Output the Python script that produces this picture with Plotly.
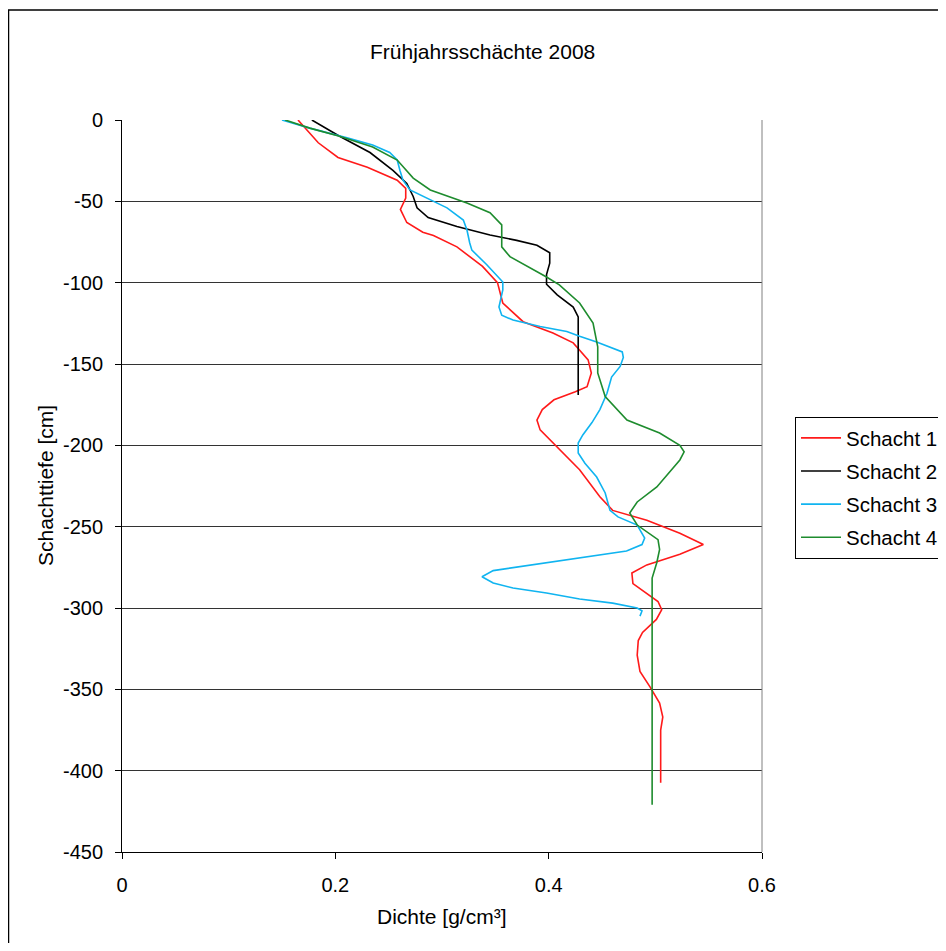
import plotly.graph_objects as go

# ---- data ----
s1_depth = [0, -14, -23, -29, -37, -42, -48, -55, -63, -69, -71, -78, -90, -100, -112.5, -124, -131, -137,
            -140, -147.5, -155.5, -164, -167, -172, -178, -184.5, -190.5, -201, -215, -231.6, -240, -246,
            -254, -261, -267, -273.5, -278.5, -285, -289, -296, -301, -307, -315, -320, -329, -339, -348.5,
            -358.5, -367, -375, -407.5]
s1_dens = [0.165, 0.184, 0.2025, 0.23, 0.258, 0.266, 0.266, 0.261, 0.267, 0.282, 0.292, 0.314, 0.338, 0.352,
           0.357, 0.376, 0.404, 0.423, 0.427, 0.437, 0.44, 0.436, 0.425, 0.405, 0.394, 0.389, 0.392, 0.408,
           0.429, 0.448, 0.46, 0.492, 0.523, 0.545, 0.523, 0.492, 0.478, 0.479, 0.488, 0.5025, 0.506, 0.501,
           0.488, 0.484, 0.483, 0.4856, 0.495, 0.504, 0.507, 0.505, 0.505]

s2_depth = [0, -10, -20, -31, -39, -47, -54, -60, -65.5, -70.7, -74, -77, -81.6, -88, -95, -101, -107.5,
            -115, -121, -169]
s2_dens = [0.178, 0.204, 0.2325, 0.254, 0.267, 0.273, 0.2766, 0.287, 0.314, 0.345, 0.37, 0.389, 0.401,
           0.401, 0.398, 0.398, 0.408, 0.423, 0.4277, 0.4277]

s3_depth = [0, -5, -11, -15.4, -20, -24.6, -31, -37, -43, -48, -54, -61.5, -67.6, -75.6, -80, -89, -99.6,
            -104.5, -115, -120, -123, -127, -130, -133, -136.5, -142.6, -146, -151.5, -158, -168, -178,
            -186, -193.6, -198.6, -204.7, -211, -219.5, -229.3, -240, -244, -249, -257, -261, -265, -268.6,
            -271.7, -277, -280.8, -284.6, -287.7, -290.8, -294.5, -297, -300, -301.8, -305]
s3_dens = [0.15, 0.176, 0.211, 0.235, 0.251, 0.258, 0.2606, 0.2634, 0.27, 0.286, 0.3047, 0.32, 0.3234,
           0.326, 0.328, 0.342, 0.357, 0.357, 0.3534, 0.356, 0.3666, 0.392, 0.417, 0.429, 0.445, 0.469,
           0.47, 0.467, 0.459, 0.4547, 0.448, 0.4406, 0.432, 0.4277, 0.4277, 0.434, 0.445, 0.453, 0.4575,
           0.465, 0.483, 0.49, 0.4875, 0.473, 0.436, 0.401, 0.348, 0.3375, 0.348, 0.3666, 0.398, 0.429,
           0.46, 0.483, 0.4875, 0.4856]

s4_depth = [0, -5, -10, -16.6, -24.6, -35.7, -43, -51, -57, -64.5, -78, -84, -96.5, -101.4, -112.5, -124.8,
            -139.5, -155.5, -170, -184.4, -192.4, -200, -204, -209, -225.6, -234.8, -241.6, -249, -258,
            -264, -272, -281.6, -421]
s4_dens = [0.153, 0.176, 0.204, 0.235, 0.258, 0.273, 0.289, 0.3234, 0.345, 0.356, 0.356, 0.3637, 0.398,
           0.41, 0.429, 0.4416, 0.446, 0.446, 0.453, 0.4734, 0.504, 0.523, 0.527, 0.523, 0.5014, 0.483,
           0.476, 0.483, 0.5025, 0.504, 0.5014, 0.497, 0.497]

series_names = ["Schacht 1", "Schacht 2", "Schacht 3", "Schacht 4"]
x_ticks = [0, 0.2, 0.4, 0.6]
x_ticklabels = ["0", "0.2", "0.4", "0.6"]
y_ticks = [0, -50, -100, -150, -200, -250, -300, -350, -400, -450]
y_ticklabels = [str(v) for v in y_ticks]

title_text = "Frühjahrsschächte 2008"
x_title = "Dichte [g/cm³]"
y_title = "Schachttiefe [cm]"

# ---- styling ----
colors = ["#FF1A1A", "#000000", "#10B4F0", "#1E8C2E"]
FONT = "Liberation Sans, Arial, sans-serif"
FS_TICK = 20
FS_TEXT = 21
FS_LEGEND = 20.5

fig = go.Figure()
for name, xs, ys, c in zip(series_names,
                           [s1_dens, s2_dens, s3_dens, s4_dens],
                           [s1_depth, s2_depth, s3_depth, s4_depth],
                           colors):
    fig.add_trace(go.Scatter(x=xs, y=ys, mode="lines", name=name, legendgroup=name,
                             line=dict(color=c, width=1.6)))

OFF = 8  # page offset of the figure (body margin)
W, H = 960, 935
L, T = 114, 112
pw, ph = 640, 732
R = W - L - pw
B = H - T - ph


def px(xp):
    return (xp - OFF - L) / pw


def py(yp):
    return (H - B - (yp - OFF)) / ph


fig.update_layout(
    width=W, height=H,
    margin=dict(l=L, r=R, t=T, b=B, pad=0, autoexpand=False),
    paper_bgcolor="white", plot_bgcolor="white",
    font=dict(family=FONT, size=FS_TICK, color="black"),
    showlegend=True,
    legend=dict(x=px(795), y=py(417), xanchor="left", yanchor="top",
                bordercolor="black", borderwidth=1, bgcolor="white",
                font=dict(family=FONT, size=FS_LEGEND, color="black"),
                traceorder="grouped", tracegroupgap=3.5, itemwidth=40),
    xaxis=dict(range=[0, 0.6], tickvals=x_ticks, ticktext=x_ticklabels,
               showgrid=False, zeroline=False, showline=True, linecolor="black", linewidth=1,
               ticks="outside", ticklen=6, tickcolor="black", tickwidth=1,
               ticklabelstandoff=9, tickfont=dict(size=FS_TICK), automargin=False),
    yaxis=dict(range=[-450, 0], tickvals=y_ticks, ticktext=y_ticklabels,
               showgrid=True, gridcolor="#333333", gridwidth=1, zeroline=False,
               showline=True, linecolor="black", linewidth=1,
               ticks="outside", ticklen=6, tickcolor="black", tickwidth=1,
               ticklabelstandoff=8, tickfont=dict(size=FS_TICK), automargin=False),
    annotations=[
        dict(text=title_text, x=px(482), y=py(52), xref="paper", yref="paper",
             showarrow=False, xanchor="center", yanchor="middle", font=dict(size=FS_TEXT)),
        dict(text=x_title, x=px(442), y=py(916), xref="paper", yref="paper",
             showarrow=False, xanchor="center", yanchor="middle", font=dict(size=FS_TEXT)),
        dict(text=y_title, x=px(45), y=py(486), xref="paper", yref="paper",
             showarrow=False, xanchor="center", yanchor="middle", textangle=-90, font=dict(size=FS_TEXT)),
    ],
    shapes=[
        dict(type="rect", xref="paper", yref="paper", x0=px(8.5), x1=px(990), y0=py(965), y1=py(10),
             line=dict(color="black", width=1.5), fillcolor="rgba(0,0,0,0)", layer="below"),
        dict(type="line", xref="paper", yref="paper", x0=1, x1=1, y0=0, y1=1,
             line=dict(color="#808080", width=1)),
    ],
)

fig.write_html("out.html")
